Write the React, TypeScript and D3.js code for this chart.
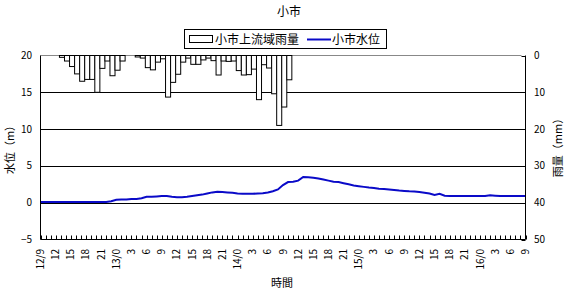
import React from "react";
import * as d3 from "d3";

const title = "小市";
const rainName = "小市上流域雨量";
const levelName = "小市水位";
const leftTitle = "水位（m）";
const rightTitle = "雨量（mm）";
const xTitle = "時間";

// hourly rainfall (mm), 12日9時 .. 16日9時
const rainfall = [
  0, 0, 0, 0,
  0.5, 1.5, 3, 5, 7, 6.5, 6.5, 10, 3.5, 1.5, 5.5, 4, 1.5,
  0, 0,
  0.4, 0.7, 3.3, 3.9, 1.8, 0.9, 11.3, 7.3, 5.1, 1.8, 0.7, 2.4, 2.4, 1.2, 0.7, 1.4,
  5.3, 1.5, 1.6, 1.5, 4.1, 5.3, 5.2, 3.7, 12, 2.5, 3.4, 10.4, 19, 14, 6.6,
  0, 0, 0, 0, 0, 0, 0, 0, 0, 0, 0, 0, 0, 0, 0, 0, 0, 0, 0, 0, 0, 0, 0, 0,
  0, 0, 0, 0, 0, 0, 0, 0, 0, 0, 0, 0, 0, 0, 0, 0, 0, 0, 0, 0, 0, 0, 0,
];

// hourly water level (m)
const level = [
  0.1, 0.1, 0.1, 0.1, 0.1, 0.1, 0.1, 0.1, 0.1, 0.1, 0.1, 0.1, 0.1, 0.1,
  0.2, 0.4, 0.45, 0.45, 0.5, 0.5, 0.6, 0.8, 0.8, 0.85, 0.9, 0.9,
  0.8, 0.75, 0.75, 0.8, 0.9, 1.0, 1.1, 1.25, 1.4, 1.5,
  1.45, 1.4, 1.35, 1.25, 1.2, 1.2, 1.2, 1.25, 1.3, 1.4, 1.55, 1.8,
  2.4, 2.8, 2.85, 3.0, 3.5, 3.45, 3.4, 3.3, 3.15, 3.0, 2.85, 2.8,
  2.65, 2.5, 2.35, 2.25, 2.15, 2.05, 2.0, 1.9, 1.85, 1.8, 1.72, 1.65,
  1.6, 1.55, 1.52, 1.45, 1.35, 1.25, 1.05, 1.2, 0.95,
  0.9, 0.9, 0.9, 0.9, 0.9, 0.9, 0.9, 0.9, 1.0, 0.95,
  0.9, 0.9, 0.9, 0.9, 0.9, 0.9,
];

const xLabels = [
  "12/9", "12", "15", "18", "21",
  "13/0", "3", "6", "9", "12", "15", "18", "21",
  "14/0", "3", "6", "9", "12", "15", "18", "21",
  "15/0", "3", "6", "9", "12", "15", "18", "21",
  "16/0", "3", "6", "9",
];

const leftTicks = [-5, 0, 5, 10, 15, 20];
const rightTicks = [0, 10, 20, 30, 40, 50];

const W = 570;
const H = 290;
const L = 40.5;
const R = 525.5;
const T = 55.5;
const B = 239.5;
const FONT = "'Noto Sans CJK JP', 'Noto Sans', sans-serif";
const LINE_COLOR = "#0a0ac8";

export default function App() {
  const n = level.length - 1;
  const x = d3.scaleLinear().domain([0, n]).range([L, R]);
  const yL = d3.scaleLinear().domain([-5, 20]).range([B, T]);
  const yR = d3.scaleLinear().domain([0, 50]).range([T, B]);
  const step = x(1) - x(0);

  const line = d3
    .line<number>()
    .x((_, i) => x(i))
    .y((d) => yL(d));

  const labelStep = 3;

  return (
    <svg
      width={W}
      height={H}
      style={{ position: "absolute", left: 0, top: 0, background: "#fff" }}
      fontFamily={FONT}
    >
      <rect x={0} y={0} width={W} height={H} fill="#fff" />
      {/* title */}
      <text x={289} y={16} fontSize={12} textAnchor="middle" fill="#000">
        {title}
      </text>

      {/* legend */}
      <rect x={184.5} y={29.5} width={202} height={19} fill="#fff" stroke="#000" />
      <rect x={189.5} y={35.5} width={23} height={7} fill="#fff" stroke="#000" />
      <text x={215} y={43.5} fontSize={12} fill="#000">
        {rainName}
      </text>
      <line x1={307} x2={331} y1={39.5} y2={39.5} stroke={LINE_COLOR} strokeWidth={2} />
      <text x={332} y={43.5} fontSize={12} fill="#000">
        {levelName}
      </text>

      {/* gridlines */}
      {leftTicks
        .filter((v) => v !== -5 && v !== 20)
        .map((v) => (
          <line key={"g" + v} x1={L} x2={R} y1={Math.round(yL(v)) + 0.5} y2={Math.round(yL(v)) + 0.5} stroke="#000" />
        ))}
      <line x1={L} x2={R - 4} y1={T} y2={T} stroke="#888" />

      {/* rainfall bars */}
      {rainfall.map((v, i) =>
        v > 0 ? (
          <rect
            key={"b" + i}
            x={x(i) - step * 0.25}
            y={yR(0)}
            width={step}
            height={yR(v) - yR(0)}
            fill="#fff"
            stroke="#000"
            strokeWidth={1}
          />
        ) : null
      )}

      {/* water level line */}
      <path d={line(level) || ""} fill="none" stroke={LINE_COLOR} strokeWidth={2} />

      {/* axes */}
      <line x1={L} x2={L} y1={T} y2={B} stroke="#000" />
      <line x1={R} x2={R} y1={T} y2={B} stroke="#000" />
      <line x1={L} x2={R} y1={B} y2={B} stroke="#000" />
      {rightTicks.map((v) => (
        <line key={"rt" + v} x1={R - 4} x2={R} y1={Math.round(yR(v)) + 0.5} y2={Math.round(yR(v)) + 0.5} stroke="#000" />
      ))}
      {level.map((_, i) => (
        <line key={"xt" + i} x1={Math.round(x(i)) + 0.5} x2={Math.round(x(i)) + 0.5} y1={B} y2={B - 4} stroke="#000" />
      ))}

      {/* left tick labels */}
      {leftTicks.map((v) => (
        <text key={"ll" + v} x={32} y={yL(v) + 3.5} fontSize={10} textAnchor="end" fill="#000">
          {v < 0 ? "−" + Math.abs(v) : String(v)}
        </text>
      ))}
      {/* right tick labels */}
      {rightTicks.map((v) => (
        <text key={"rl" + v} x={534} y={yR(v) + 3.5} fontSize={10} textAnchor="start" fill="#000">
          {String(v)}
        </text>
      ))}
      {/* x tick labels */}
      {xLabels.map((s, k) => (
        <text
          key={"xl" + k}
          transform={`translate(${x(k * labelStep) + 3.5},249) rotate(-90)`}
          fontSize={10}
          textAnchor="end"
          fill="#000"
        >
          {s}
        </text>
      ))}

      {/* axis titles */}
      <text transform="translate(14,147) rotate(-90)" fontSize={11} textAnchor="middle" fill="#000">
        {leftTitle}
      </text>
      <text transform="translate(562,145) rotate(-90)" fontSize={11} textAnchor="middle" fill="#000">
        {rightTitle}
      </text>
      <text x={282} y={287} fontSize={11} textAnchor="middle" fill="#000">
        {xTitle}
      </text>
    </svg>
  );
}
